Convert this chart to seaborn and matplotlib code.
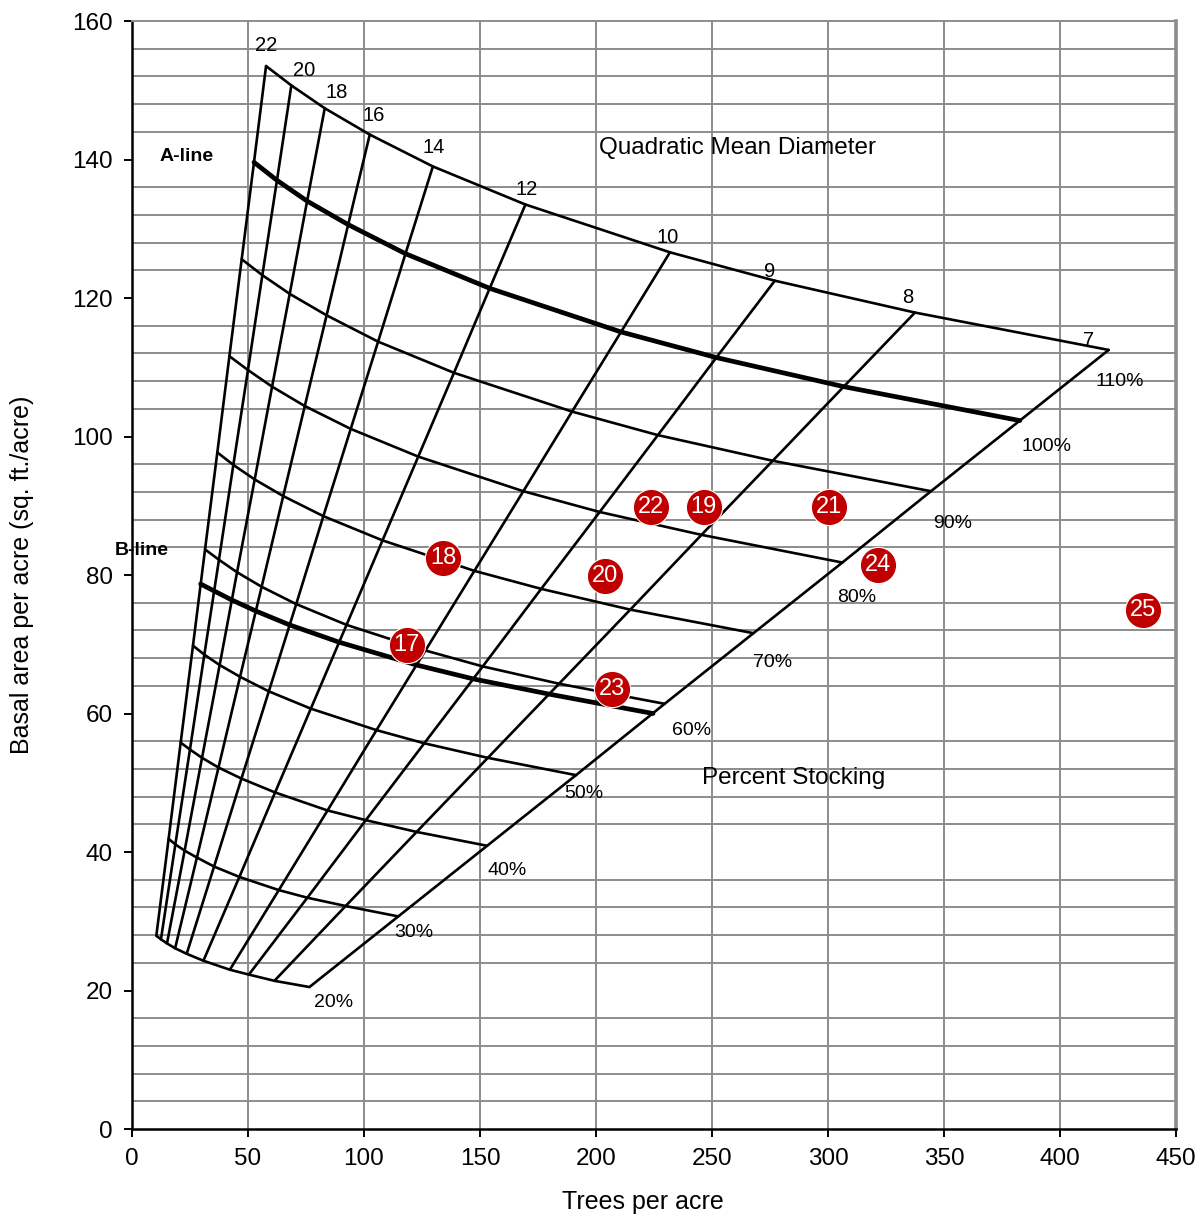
import matplotlib
matplotlib.use("Agg")
import matplotlib.pyplot as plt
import matplotlib.ticker as mticker
import seaborn as sns
import pandas as pd

# quadratic mean diameter lines and stocking levels
diameters = [22, 20, 18, 16, 14, 12, 10, 9, 8, 7]
pct_levels = [110, 100, 90, 80, 70, 60, 50, 40, 30, 20]

# intersections (trees/acre, basal area) of each stocking curve with each diameter line
tpa_110 = [57.8, 68.7, 83.1, 102.5, 129.7, 169.6, 231.9, 277.1, 337.5, 421.0]
ba_110 = [153.5, 150.7, 147.4, 143.6, 139.0, 133.5, 126.6, 122.5, 117.9, 112.5]
tpa_100 = [52.6, 62.5, 75.5, 93.2, 117.9, 154.2, 210.8, 251.9, 306.8, 382.7]
ba_100 = [139.6, 137.0, 134.0, 130.6, 126.4, 121.4, 115.1, 111.4, 107.2, 102.3]
tpa_90 = [47.3, 56.2, 68.0, 83.9, 106.1, 138.8, 189.7, 226.7, 276.2, 344.4]
ba_90 = [125.6, 123.3, 120.6, 117.5, 113.7, 109.2, 103.6, 100.2, 96.5, 92.1]
tpa_80 = [42.0, 50.0, 60.4, 74.5, 94.3, 123.4, 168.7, 201.6, 245.5, 306.2]
ba_80 = [111.6, 109.6, 107.2, 104.4, 101.1, 97.1, 92.1, 89.1, 85.8, 81.8]
tpa_70 = [36.8, 43.7, 52.9, 65.2, 82.5, 108.0, 147.6, 176.4, 214.8, 267.9]
ba_70 = [97.7, 95.9, 93.8, 91.4, 88.5, 85.0, 80.6, 78.0, 75.0, 71.6]
tpa_60 = [31.5, 37.5, 45.3, 55.9, 70.8, 92.5, 126.5, 151.2, 184.1, 229.6]
ba_60 = [83.7, 82.2, 80.4, 78.3, 75.8, 72.8, 69.1, 66.8, 64.3, 61.4]
tpa_50 = [26.3, 31.2, 37.8, 46.6, 59.0, 77.1, 105.4, 126.0, 153.4, 191.4]
ba_50 = [69.8, 68.5, 67.0, 65.3, 63.2, 60.7, 57.6, 55.7, 53.6, 51.1]
tpa_40 = [21.0, 25.0, 30.2, 37.3, 47.2, 61.7, 84.3, 100.8, 122.7, 153.1]
ba_40 = [55.8, 54.8, 53.6, 52.2, 50.6, 48.6, 46.0, 44.6, 42.9, 40.9]
tpa_30 = [15.8, 18.7, 22.7, 28.0, 35.4, 46.3, 63.3, 75.6, 92.1, 114.8]
ba_30 = [41.9, 41.1, 40.2, 39.2, 37.9, 36.4, 34.5, 33.4, 32.2, 30.7]
tpa_20 = [10.5, 12.5, 15.1, 18.6, 23.6, 30.8, 42.2, 50.4, 61.4, 76.5]
ba_20 = [27.9, 27.4, 26.8, 26.1, 25.3, 24.3, 23.0, 22.3, 21.4, 20.5]

# B-line
tpa_bline = [29.6, 35.4, 43.0, 53.4, 67.9, 89.3, 122.7, 147.1, 179.8, 224.6]
ba_bline = [78.7, 77.7, 76.4, 74.8, 72.8, 70.3, 67.0, 65.0, 62.8, 60.0]

# stands
stand_ids = [17, 18, 19, 20, 21, 22, 23, 24, 25]
stand_tpa = [118.4, 134.1, 246.4, 203.8, 300.3, 223.6, 206.9, 321.4, 435.9]
stand_ba = [69.9, 82.5, 89.8, 79.9, 89.8, 89.8, 63.5, 81.4, 74.9]

tpa_rows = [tpa_110, tpa_100, tpa_90, tpa_80, tpa_70, tpa_60, tpa_50, tpa_40, tpa_30, tpa_20]
ba_rows = [ba_110, ba_100, ba_90, ba_80, ba_70, ba_60, ba_50, ba_40, ba_30, ba_20]

rows = []
for pct, tpas, bas in zip(pct_levels, tpa_rows, ba_rows):
    for d, t, b in zip(diameters, tpas, bas):
        rows.append({"pct": pct, "dbh": d, "tpa": t, "ba": b})
grid = pd.DataFrame(rows)

sns.set_theme(style="white")
plt.rcParams["font.family"] = ["Liberation Sans", "DejaVu Sans"]
plt.rcParams["text.color"] = "black"
plt.rcParams["axes.labelcolor"] = "black"
plt.rcParams["xtick.color"] = "black"
plt.rcParams["ytick.color"] = "black"

fig = plt.figure(figsize=(12.04, 12.22), dpi=100)
ax = fig.add_axes([0.1096, 0.0761, 0.8671, 0.9067])

lw = 1.9
# stocking curves
sns.lineplot(data=grid[grid.pct != 100], x="tpa", y="ba", units="pct", estimator=None,
             sort=False, color="black", lw=lw, legend=False, ax=ax)
sns.lineplot(data=grid[grid.pct == 100], x="tpa", y="ba", estimator=None,
             sort=False, color="black", lw=3.4, legend=False, ax=ax)
# diameter lines
sns.lineplot(data=grid.sort_values(["dbh", "pct"]), x="tpa", y="ba", units="dbh",
             estimator=None, sort=False, color="black", lw=lw, legend=False, ax=ax)
# B-line
sns.lineplot(x=tpa_bline, y=ba_bline, sort=False, estimator=None, color="black",
             lw=3.4, legend=False, ax=ax)

# stand points
sns.scatterplot(x=stand_tpa, y=stand_ba, s=680, color="#C00000", edgecolor="white",
                linewidth=0.8, zorder=5, legend=False, ax=ax)
for sid, t, b in zip(stand_ids, stand_tpa, stand_ba):
    ax.text(t, b, str(sid), color="white", fontsize=17, ha="center", va="center",
            zorder=6)

# diameter labels
dia_lab_x = [57.8, 74.1, 88.4, 104.3, 130.2, 170.3, 231.0, 275.0, 334.5, 412.5]
dia_lab_y = [156.4, 152.9, 149.7, 146.4, 141.7, 135.7, 128.7, 123.9, 120.1, 113.9]
for d, x, y in zip(diameters, dia_lab_x, dia_lab_y):
    ax.text(x, y, str(d), fontsize=14.5, ha="center", va="center")

# percent labels
pct_lab_x = [425.6, 394.0, 353.9, 312.5, 276.3, 241.4, 194.8, 161.6, 121.6, 87.1]
pct_lab_y = [108.0, 98.6, 87.4, 76.7, 67.3, 57.5, 48.4, 37.4, 28.4, 18.2]
for p, x, y in zip(pct_levels, pct_lab_x, pct_lab_y):
    ax.text(x, y, f"{p}%", fontsize=14, ha="center", va="center")

ax.text(260.8, 141.7, "Quadratic Mean Diameter", fontsize=17.5, ha="center", va="center")
ax.text(285.3, 50.7, "Percent Stocking", fontsize=17.5, ha="center", va="center")
ax.text(23.7, 140.5, "A-line", fontsize=14, fontweight="bold", ha="center", va="center")
ax.text(4.3, 83.5, "B-line", fontsize=14, fontweight="bold", ha="center", va="center")

ax.set_xlim(0, 450)
ax.set_ylim(0, 160)
ax.xaxis.set_major_locator(mticker.MultipleLocator(50))
ax.yaxis.set_major_locator(mticker.MultipleLocator(20))
ax.yaxis.set_minor_locator(mticker.MultipleLocator(4))
ax.grid(False)
ax.grid(True, axis="x", which="major", color="#8c8c8c", lw=1.4)
ax.grid(True, axis="y", which="minor", color="#8c8c8c", lw=1.4)
ax.set_axisbelow(True)
ax.tick_params(axis="both", which="major", direction="out", length=6, width=1.4,
               color="black", labelsize=17.5, left=True, bottom=True, pad=8)
ax.tick_params(axis="y", which="minor", length=0)

for side in ["left", "bottom"]:
    ax.spines[side].set_color("black")
    ax.spines[side].set_linewidth(1.8)
ax.spines["top"].set_color("#8c8c8c")
ax.spines["top"].set_linewidth(1.4)
ax.spines["right"].set_color("#8c8c8c")
ax.spines["right"].set_linewidth(2.6)

ax.set_xlabel("Trees per acre", fontsize=18)
ax.set_ylabel("Basal area per acre (sq. ft./acre)", fontsize=18)
ax.xaxis.set_label_coords(0.4895, -0.055)
ax.yaxis.set_label_coords(-0.094, 0.5)

fig.savefig("out.png", dpi=100)
